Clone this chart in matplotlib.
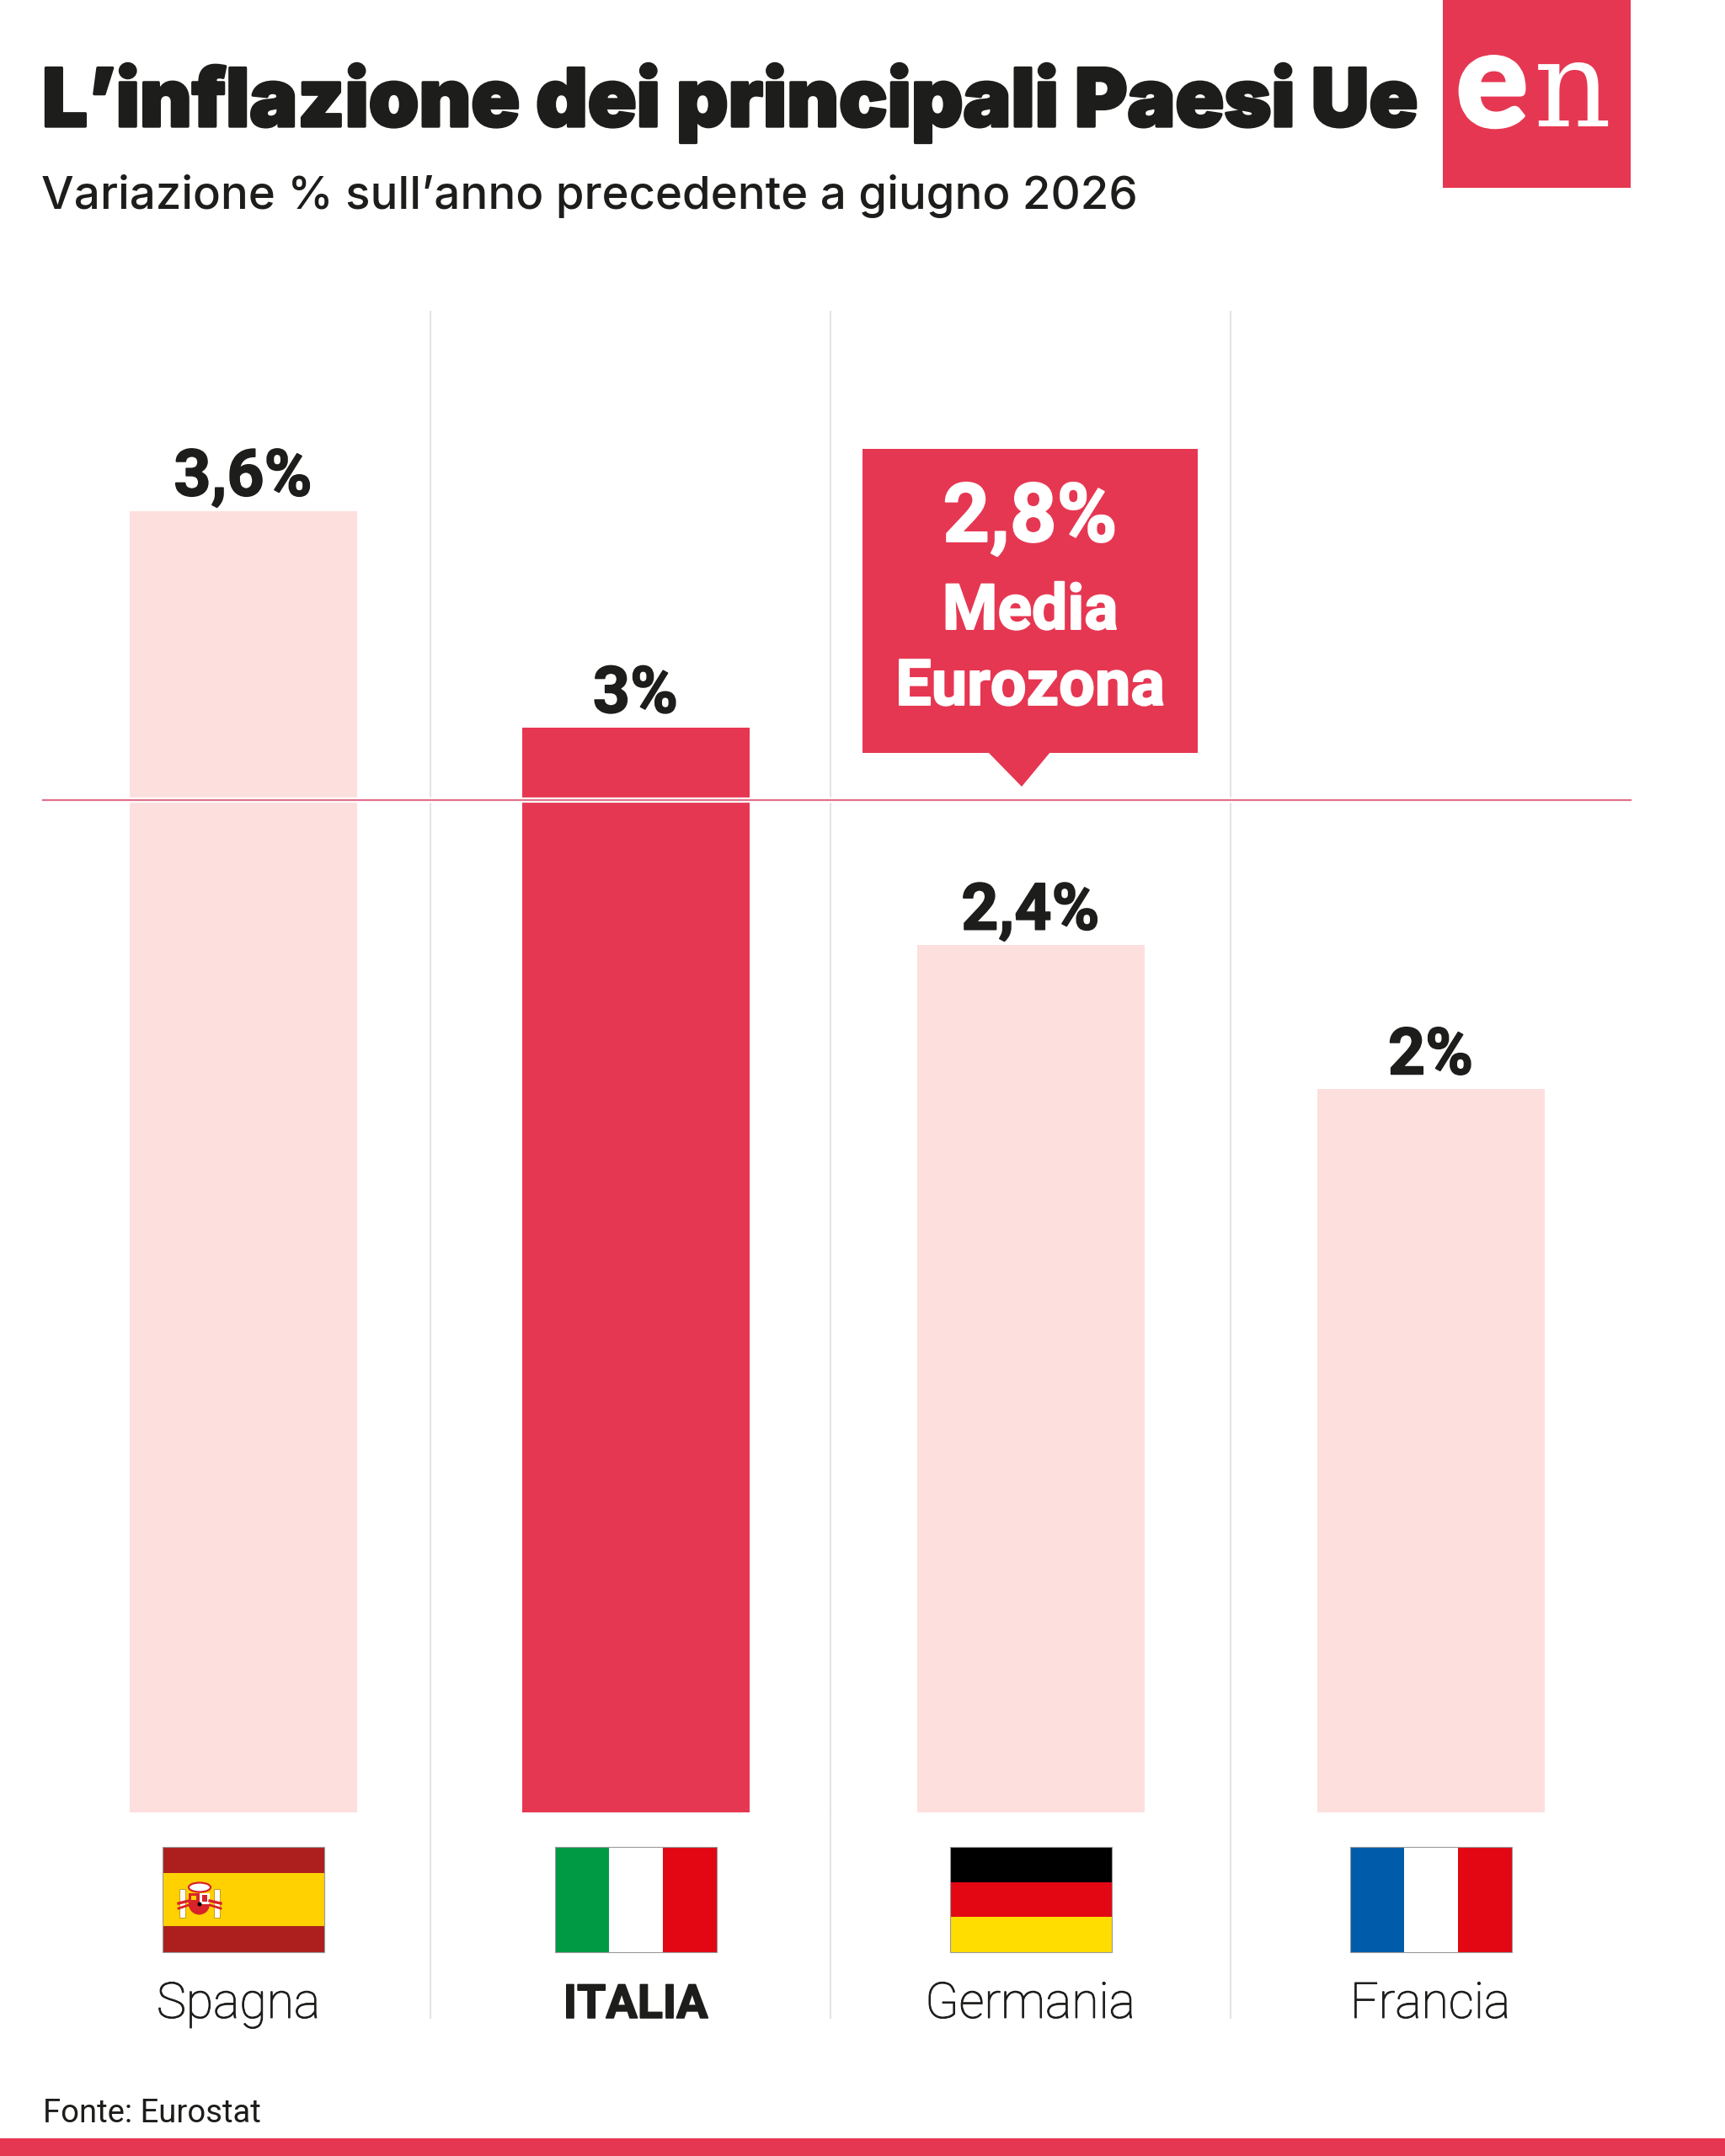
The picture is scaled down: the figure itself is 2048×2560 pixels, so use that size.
import matplotlib
matplotlib.use('Agg')
import matplotlib.pyplot as plt
from matplotlib.patches import Rectangle, Polygon, Ellipse, Wedge
import matplotlib.patheffects as pe

W, H = 2048, 2560
RED = '#E63752'
PALE = '#FDDFDD'
INK = '#1D1D1B'
GRID = '#E4E4E4'

# dati
paesi = ['Spagna', 'ITALIA', 'Germania', 'Francia']
valori = [3.6, 3.0, 2.4, 2.0]
etichette = ['3,6%', '3%', '2,4%', '2%']
media_eurozona = 2.8
media_label = '2,8%'

# colori delle bandiere, dall'alto o da sinistra
bandiere = [
    ('h', ['#AD1F1F', '#FFD100', '#FFD100', '#AD1F1F']),
    ('v', ['#009A44', '#FFFFFF', '#E30613']),
    ('h', ['#000000', '#E30613', '#FFDD00']),
    ('v', ['#005BAA', '#FFFFFF', '#E30613']),
]

# layout in pixel
centri = [288.5, 754.5, 1223.5, 1698.5]
griglia_x = [510.5, 985.5, 1461]
larg_barra = 270
base_y, top_y = 2152, 369
px_per_unit = 429.3

fig = plt.figure(figsize=(W / 100, H / 100), dpi=100, facecolor='white')

# asse delle barre: x in pixel, y in punti percentuali
ax = fig.add_axes([0, 1 - base_y / H, 1, (base_y - top_y) / H])
ax.set_xlim(0, W)
ax.set_ylim(0, (base_y - top_y) / px_per_unit)
ax.axis('off')

# asse di servizio in pixel per testi, griglia e bandiere
ov = fig.add_axes([0, 0, 1, 1], zorder=3)
ov.set_xlim(0, W)
ov.set_ylim(H, 0)
ov.axis('off')
ov.patch.set_alpha(0)


def grassetto(w, col):
    # ispessisce il testo: i font installati sono meno neri dell'originale
    return [pe.Stroke(linewidth=w, foreground=col), pe.Normal()]


for gx in griglia_x:
    ax.plot([gx, gx], [0, 10], color=GRID, lw=1.5, zorder=0)
    ov.plot([gx, gx], [base_y, 2396], color=GRID, lw=1.5, zorder=0)

colori = [RED if p == 'ITALIA' else PALE for p in paesi]
ax.bar(centri, valori, width=larg_barra, color=colori, linewidth=0, zorder=1)

# linea della media con alone bianco
ax.axhline(media_eurozona, xmin=51 / W, xmax=1936 / W, color='#E2728A', lw=1.6,
           zorder=3, path_effects=[pe.Stroke(linewidth=4.5, foreground='white'), pe.Normal()])

BOLD = dict(family='Roboto', weight='bold')

for c, v, lab in zip(centri, valori, etichette):
    y_px = base_y - v * px_per_unit
    ov.text(c, y_px - 18, lab, ha='center', va='baseline', fontsize=55.5, color=INK,
            path_effects=grassetto(1.2, INK), **BOLD)


def bandiera(cx, spec):
    x0, y0, w, h = cx - 96, 2193, 192, 125
    verso, cols = spec
    n = len(cols)
    for i, col in enumerate(cols):
        if verso == 'h':
            ov.add_patch(Rectangle((x0, y0 + h * i / n), w, h / n, fc=col, lw=0))
        else:
            ov.add_patch(Rectangle((x0 + w * i / n, y0), w / n, h, fc=col, lw=0))
    ov.add_patch(Rectangle((x0, y0), w, h, fc='none', ec='#9A9A9A', lw=0.8))


for c, spec in zip(centri, bandiere):
    bandiera(c, spec)

# stemma spagnolo
for cx in (216.5, 257):
    ov.add_patch(Rectangle((cx - 3.5, 2243), 7, 34, fc='white', ec='#C9A227', lw=0.8))
ov.add_patch(Ellipse((237, 2241), 26, 11, fc='white', ec='#D8232A', lw=1.6))
ov.add_patch(Rectangle((224, 2248), 12.5, 16, fc='#D8232A', lw=0))
ov.add_patch(Rectangle((236.5, 2248), 12.5, 13, fc='white', lw=0))
ov.add_patch(Wedge((236.5, 2261), 12.5, 0, 180, fc='#D8232A', lw=0))
ov.add_patch(Rectangle((240, 2250), 6, 8, fc='#D8232A', lw=0))
ov.add_patch(Rectangle((227, 2251), 6, 5, fc='#FFD100', lw=0))
ov.plot([212, 224], [2260, 2257], color='#D8232A', lw=2.4)
ov.plot([249, 262], [2257, 2260], color='#D8232A', lw=2.4)
ov.plot([212, 224], [2266, 2262], color='#D8232A', lw=2)
ov.plot([249, 262], [2262, 2266], color='#D8232A', lw=2)
ov.add_patch(Ellipse((237, 2261), 5, 5, fc='black', lw=0))

# nomi dei paesi
nomi_x = [283, 754.5, 1223, 1698]
for nx, p in zip(nomi_x, paesi):
    if p == 'ITALIA':
        ov.text(nx, 2396, p, ha='center', va='baseline', fontsize=40, color=INK,
                path_effects=grassetto(1.2, INK), **BOLD)
    else:
        ov.text(nx, 2396, p, ha='center', va='baseline', fontsize=42.5, color=INK,
                family='Roboto', weight='light', path_effects=grassetto(0.7, INK))

# riquadro della media
ov.add_patch(Rectangle((1024, 533), 398, 361, fc=RED, lw=0))
ov.add_patch(Polygon([(1173, 893), (1247, 893), (1213, 934)], closed=True, fc=RED, lw=0))
ov.text(1223, 643, media_label, ha='center', va='baseline', fontsize=70, color='white',
        path_effects=grassetto(1.4, 'white'), **BOLD)
ov.text(1223, 747, 'Media', ha='center', va='baseline', fontsize=54, color='white',
        path_effects=grassetto(1.4, 'white'), **BOLD)
ov.text(1223, 837, 'Eurozona', ha='center', va='baseline', fontsize=54.5, color='white',
        path_effects=grassetto(1.4, 'white'), **BOLD)

# titolo e sottotitolo
ov.text(50, 150, 'L’inflazione dei principali Paesi Ue', ha='left', va='baseline',
        fontsize=68.7, color=INK, family='Inter', weight='black',
        path_effects=grassetto(2.4, INK))
ov.text(49, 248, 'Variazione % sull’anno precedente a giugno 2026', ha='left', va='baseline',
        fontsize=39.3, color=INK, family='Inter', weight='medium')

# logo
ov.add_patch(Rectangle((1713, 0), 223, 223, fc=RED, lw=0))
ov.text(1729, 150, 'e', ha='left', va='baseline', fontsize=114, color='white',
        family='Lato', weight='black', path_effects=grassetto(3, 'white'))
ov.text(1821, 150, 'n', ha='left', va='baseline', fontsize=103, color='white',
        family='DejaVu Serif')

# fonte e fascia finale
ov.text(51, 2520, 'Fonte: Eurostat', ha='left', va='baseline', fontsize=27.5, color=INK, family='Roboto')
ov.add_patch(Rectangle((0, 2539), W, 21, fc=RED, lw=0))

fig.savefig('out.png', dpi=100, facecolor='white')
